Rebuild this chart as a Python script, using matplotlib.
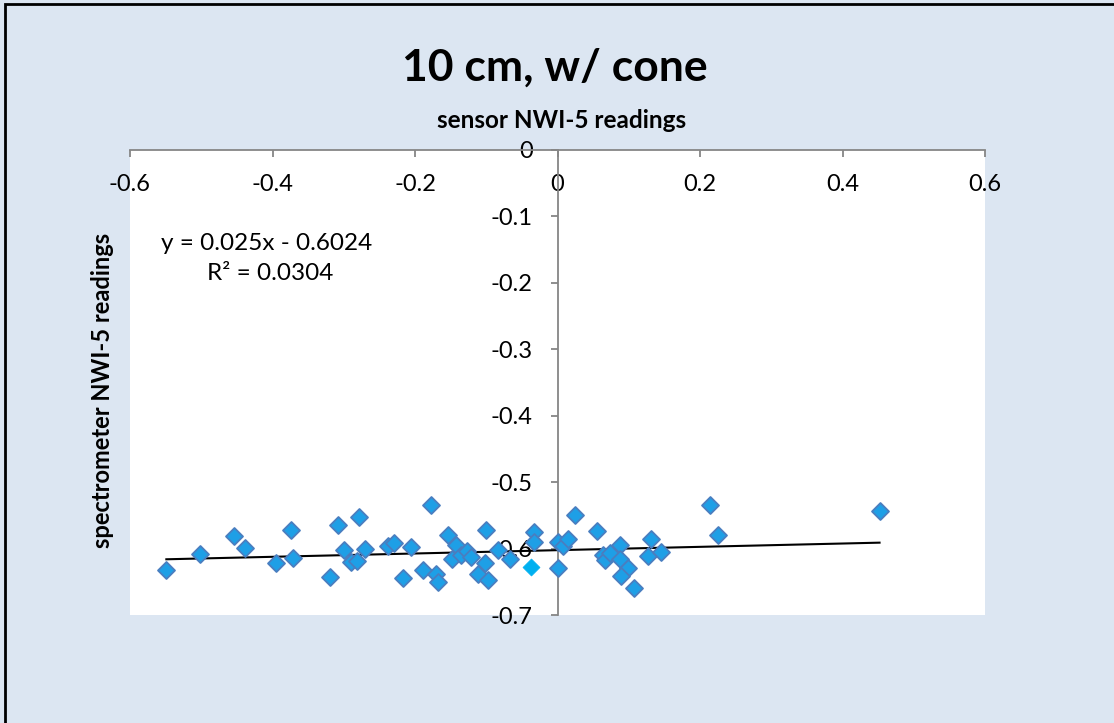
import matplotlib
matplotlib.use("Agg")
import matplotlib.pyplot as plt
from matplotlib.patches import Rectangle

plt.rcParams['font.family'] = ['Lato', 'DejaVu Sans']
plt.rcParams['axes.unicode_minus'] = False

# sensor NWI-5 readings (x) and spectrometer NWI-5 readings (y)
sensor = [-0.549, -0.502, -0.454, -0.439, -0.395, -0.374, -0.371, -0.320, -0.308,
          -0.279, -0.299, -0.290, -0.282, -0.270, -0.238, -0.230, -0.206, -0.178,
          -0.217, -0.189, -0.171, -0.168, -0.153, -0.142, -0.148, -0.135, -0.127,
          -0.122, -0.101, -0.111, -0.102, -0.097, -0.083, -0.067, -0.033, -0.033,
          0.024, 0.001, 0.008, 0.015, 0.001, 0.056, 0.064, 0.067, 0.074, 0.088,
          0.088, 0.099, 0.089, 0.108, 0.127, 0.131, 0.145, 0.214, 0.225, 0.452]
spectro = [-0.632, -0.608, -0.581, -0.599, -0.621, -0.572, -0.614, -0.643, -0.564,
           -0.553, -0.602, -0.620, -0.618, -0.600, -0.596, -0.592, -0.597, -0.535,
           -0.644, -0.633, -0.638, -0.651, -0.580, -0.595, -0.616, -0.610, -0.604,
           -0.613, -0.572, -0.638, -0.622, -0.647, -0.602, -0.615, -0.575, -0.590,
           -0.549, -0.590, -0.596, -0.585, -0.629, -0.573, -0.610, -0.617, -0.607,
           -0.594, -0.616, -0.629, -0.641, -0.660, -0.611, -0.586, -0.605, -0.535,
           -0.579, -0.543]
# separately coloured point
sensor_hl = [-0.0365]
spectro_hl = [-0.628]

# linear trendline (Excel)
slope = 0.025
intercept = -0.6024
r2 = 0.0304

xticks = [-0.6, -0.4, -0.2, 0, 0.2, 0.4, 0.6]
xticklabels = ["-0.6", "-0.4", "-0.2", "0", "0.2", "0.4", "0.6"]
yticks = [0, -0.1, -0.2, -0.3, -0.4, -0.5, -0.6, -0.7]
yticklabels = ["0", "-0.1", "-0.2", "-0.3", "-0.4", "-0.5", "-0.6", "-0.7"]

W, H = 1114, 723
bg = '#DCE6F2'
fig = plt.figure(figsize=(W / 100, H / 100), dpi=100, facecolor=bg)
fig.patches.append(Rectangle((5 / W, -0.05), 1.2, 1 - 4.5 / H + 0.05, transform=fig.transFigure,
                             fill=False, edgecolor='black', linewidth=2, zorder=0))

ax = fig.add_axes([130 / W, 1 - 615 / H, 855 / W, 465 / H])
ax.set_facecolor('white')
ax.set_xlim(-0.6, 0.6)
ax.set_ylim(-0.7, 0)

axis_col = '#868686'
for s in ['right', 'top']:
    ax.spines[s].set_visible(False)
ax.spines['left'].set_position(('data', 0))
ax.spines['bottom'].set_position(('data', 0))
ax.spines['left'].set_color(axis_col)
ax.spines['bottom'].set_color(axis_col)
ax.spines['left'].set_linewidth(1.3)
ax.spines['bottom'].set_linewidth(1.3)

ax.set_xticks(xticks)
ax.set_xticklabels(xticklabels)
ax.set_yticks(yticks)
ax.set_yticklabels(yticklabels)
ax.tick_params(axis='both', direction='out', length=5, width=1.3, color=axis_col,
               labelsize=17, labelcolor='black')
ax.tick_params(axis='x', pad=12)
ax.tick_params(axis='y', pad=13)

# trendline
xs = [min(sensor), max(sensor)]
ys = [slope * v + intercept for v in xs]
ax.plot(xs, ys, color='black', linewidth=1.5, zorder=2)

ax.scatter(sensor, spectro, marker='D', s=75, facecolor='#1E9FE6', edgecolor='#4A7EC0',
           linewidth=1.3, zorder=3, clip_on=False)
ax.scatter(sensor_hl, spectro_hl, marker='D', s=75, facecolor='#00B0F0', edgecolor='#00B0F0',
           linewidth=0.5, zorder=3)

fig.text(267 / W, 1 - 243 / H, f"y = {slope}x - {abs(intercept)}", ha='center', va='center',
         fontsize=17.5)
fig.text(270 / W, 1 - 273 / H, f"R² = {r2}", ha='center', va='center', fontsize=17.5)

fig.text(555 / W, 1 - 68 / H, "10 cm, w/ cone", ha='center', va='center', fontsize=32,
         fontweight='bold')
fig.text(562 / W, 1 - 121 / H, "sensor NWI-5 readings", ha='center', va='center', fontsize=17.5,
         fontweight='bold')
fig.text(103 / W, 1 - 390 / H, "spectrometer NWI-5 readings", ha='center', va='center',
         fontsize=17, fontweight='bold', rotation=90)

fig.savefig('out.png', dpi=100, facecolor=bg)
